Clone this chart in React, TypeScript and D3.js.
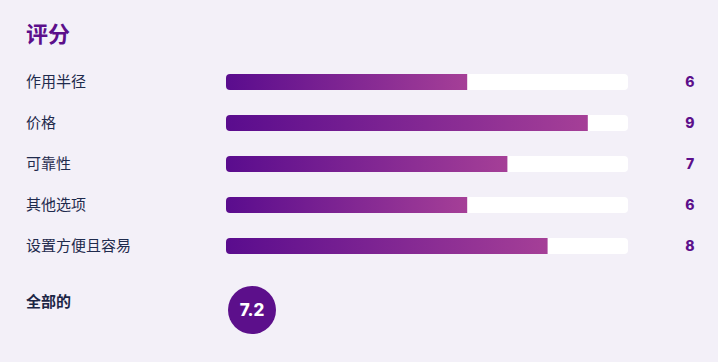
import React from "react";
import * as d3 from "d3";

const title = "评分";
const categories = ["作用半径", "价格", "可靠性", "其他选项", "设置方便且容易"];
const values = [6, 9, 7, 6, 8];
const overallLabel = "全部的";
const overallValue = 7.2;
const maxScore = 10;

const W = 718;
const H = 362;
const PURPLE = "#5c0f8b";
const PINK = "#a53f97";
const FONT = "'Noto Sans CJK SC', 'Noto Sans', sans-serif";
const NUMFONT = "Inter, 'Noto Sans', sans-serif";

export default function App() {
  const x = d3.scaleLinear().domain([0, maxScore]).range([226, 628]);
  const y = d3
    .scalePoint<string>()
    .domain(categories)
    .range([82, 246]);
  const barH = 16;
  const r = 4;

  const filledPath = (w: number, yc: number) => {
    const x0 = x(0);
    const y0 = yc - barH / 2;
    const p = d3.path();
    p.moveTo(x0 + r, y0);
    p.lineTo(x0 + w, y0);
    p.lineTo(x0 + w, y0 + barH);
    p.lineTo(x0 + r, y0 + barH);
    p.arcTo(x0, y0 + barH, x0, y0 + barH - r, r);
    p.lineTo(x0, y0 + r);
    p.arcTo(x0, y0, x0 + r, y0, r);
    p.closePath();
    return p.toString();
  };

  return (
    <svg
      width={W}
      height={H}
      style={{ position: "absolute", left: 0, top: 0, display: "block" }}
    >
      <defs>
        <linearGradient id="barGrad" x1="0" x2="1" y1="0" y2="0">
          <stop offset="0%" stopColor="#5a0c8e" />
          <stop offset="100%" stopColor={PINK} />
        </linearGradient>
      </defs>
      <rect x={0} y={0} width={W} height={H} fill="#f3f0f8" />
      <text
        x={26}
        y={42}
        fontFamily={FONT}
        fontWeight={700}
        fontSize={22}
        fill={PURPLE}
      >
        {title}
      </text>
      {categories.map((c, i) => {
        const yc = y(c) as number;
        const w = x(values[i]) - x(0);
        return (
          <g key={c}>
            <text
              x={26}
              y={yc}
              dy="0.35em"
              fontFamily={FONT}
              fontSize={15}
              fill="#1f2b4d"
            >
              {c}
            </text>
            <rect
              x={x(0)}
              y={yc - barH / 2}
              width={x(maxScore) - x(0)}
              height={barH}
              rx={r}
              fill="#ffffff"
            />
            <path d={filledPath(w, yc)} fill="url(#barGrad)" />
            <text
              x={690}
              y={yc}
              dy="0.36em"
              textAnchor="middle"
              fontFamily={NUMFONT}
              fontWeight={800}
              fontSize={14}
              fill={PURPLE}
            >
              {values[i]}
            </text>
          </g>
        );
      })}
      <text
        x={26}
        y={302}
        dy="0.35em"
        fontFamily={FONT}
        fontWeight={700}
        fontSize={15}
        fill="#1b2545"
      >
        {overallLabel}
      </text>
      <circle cx={252} cy={310} r={24} fill={PURPLE} />
      <text
        x={252}
        y={310}
        dy="0.36em"
        textAnchor="middle"
        fontFamily={NUMFONT}
        fontWeight={800}
        fontSize={17}
        fill="#ffffff"
      >
        {overallValue.toFixed(1)}
      </text>
    </svg>
  );
}
